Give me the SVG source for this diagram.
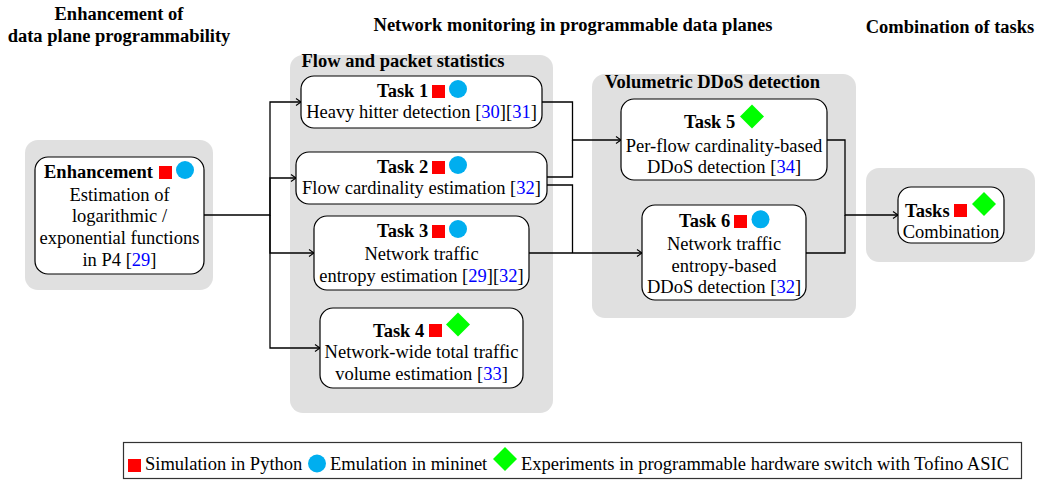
<svg xmlns="http://www.w3.org/2000/svg" width="1038" height="481" viewBox="0 0 1038 481">
<defs>
<style>
text{font-family:"Liberation Serif","Times New Roman",serif;font-size:18.5px;fill:#000}
.b{font-weight:bold}
.m{text-anchor:middle}
.grp{fill:#e0e0e0;stroke:none}
.node{fill:#fff;stroke:#000;stroke-width:1.2}
.c{fill:#0000ff}
.sq{fill:#ff0000}
.ci{fill:#00aeef}
.di{fill:#00ff00}
.conn path{fill:none;stroke:#000;stroke-width:1.3}
</style>
<marker id="arr" markerUnits="userSpaceOnUse" markerWidth="8" markerHeight="8" refX="6" refY="4" orient="auto">
<path d="M1,0.5 L6,4 L1,7.5" fill="none" stroke="#000" stroke-width="1.1"/>
</marker>
</defs>
<rect width="1038" height="481" fill="#fff"/>

<g id="titles">
<text class="b m" x="119" y="20">Enhancement of</text>
<text class="b m" x="119" y="42">data plane programmability</text>
<text class="b m" x="573" y="31">Network monitoring in programmable data planes</text>
<text class="b m" x="950" y="33">Combination of tasks</text>
</g>

<g id="group-enhancement"><rect class="grp" x="25" y="140" width="188" height="150" rx="13"/></g>
<g id="group-flow">
<rect class="grp" x="290" y="55" width="263" height="358" rx="13"/>
<text class="b m" x="403" y="67">Flow and packet statistics</text>
</g>
<g id="group-ddos">
<rect class="grp" x="592" y="74" width="264" height="244" rx="13"/>
<text class="b m" x="712.5" y="88">Volumetric DDoS detection</text>
</g>
<g id="group-combination"><rect class="grp" x="866" y="168" width="169" height="94" rx="13"/></g>

<g class="conn" id="connectors">
<path d="M204,215 H270 V102 H301" marker-end="url(#arr)"/>
<path d="M270,215 V178 H296" marker-end="url(#arr)"/>
<path d="M270,215 V253 H314" marker-end="url(#arr)"/>
<path d="M270,215 V348 H320" marker-end="url(#arr)"/>
<path d="M542,102 H572.5 V140 H621" marker-end="url(#arr)"/>
<path d="M547,177 H572.5 V140"/>
<path d="M547,185 H572.5 V253"/>
<path d="M529,253 H642" marker-end="url(#arr)"/>
<path d="M827,140 H845 V215 H898" marker-end="url(#arr)"/>
<path d="M806,253 H845 V215"/>
</g>

<g id="node-enhancement">
<rect class="node" x="35" y="157" width="169" height="117" rx="13"/>
<text class="b" x="44" y="178">Enhancement</text>
<rect class="sq" x="159" y="166" width="13" height="13"/>
<circle class="ci" cx="185" cy="170" r="9"/>
<text class="m" x="119.5" y="200.5">Estimation of</text>
<text class="m" x="119.5" y="222">logarithmic /</text>
<text class="m" x="119.5" y="243.5">exponential functions</text>
<text class="m" x="119.5" y="265.5">in P4 [<tspan class="c">29</tspan>]</text>
</g>

<g id="node-task1">
<rect class="node" x="301" y="76" width="241" height="52" rx="13"/>
<text class="b" x="377" y="97">Task 1</text>
<rect class="sq" x="432" y="85" width="13" height="13"/>
<circle class="ci" cx="458" cy="89" r="9"/>
<text class="m" x="421.5" y="118">Heavy hitter detection [<tspan class="c">30</tspan>][<tspan class="c">31</tspan>]</text>
</g>

<g id="node-task2">
<rect class="node" x="296" y="152" width="251" height="52" rx="13"/>
<text class="b" x="377" y="173">Task 2</text>
<rect class="sq" x="432" y="161" width="13" height="13"/>
<circle class="ci" cx="458" cy="165" r="9"/>
<text class="m" x="421.5" y="194">Flow cardinality estimation [<tspan class="c">32</tspan>]</text>
</g>

<g id="node-task3">
<rect class="node" x="314" y="216" width="215" height="74" rx="13"/>
<text class="b" x="377" y="237">Task 3</text>
<rect class="sq" x="432" y="225" width="13" height="13"/>
<circle class="ci" cx="458" cy="229" r="9"/>
<text class="m" x="421.5" y="260">Network traffic</text>
<text class="m" x="421.5" y="282">entropy estimation [<tspan class="c">29</tspan>][<tspan class="c">32</tspan>]</text>
</g>

<g id="node-task4">
<rect class="node" x="320" y="308" width="203" height="80" rx="13"/>
<text class="b" x="373" y="337">Task 4</text>
<rect class="sq" x="429" y="324" width="13" height="13"/>
<path class="di" d="M458,312.5 L470,324.5 L458,336.5 L446,324.5 Z"/>
<text class="m" x="421.5" y="358">Network-wide total traffic</text>
<text class="m" x="421.5" y="380">volume estimation [<tspan class="c">33</tspan>]</text>
</g>

<g id="node-task5">
<rect class="node" x="621" y="99" width="206" height="81" rx="13"/>
<text class="b" x="684" y="128">Task 5</text>
<path class="di" d="M752,104.5 L764,116.5 L752,128.5 L740,116.5 Z"/>
<text class="m" x="724" y="151.5">Per-flow cardinality-based</text>
<text class="m" x="724" y="173">DDoS detection [<tspan class="c">34</tspan>]</text>
</g>

<g id="node-task6">
<rect class="node" x="642" y="205" width="164" height="95" rx="13"/>
<text class="b" x="679" y="227">Task 6</text>
<rect class="sq" x="734" y="215" width="13" height="13"/>
<circle class="ci" cx="760.5" cy="219.3" r="9"/>
<text class="m" x="724" y="250">Network traffic</text>
<text class="m" x="724" y="271.5">entropy-based</text>
<text class="m" x="724" y="293">DDoS detection [<tspan class="c">32</tspan>]</text>
</g>

<g id="node-combination">
<rect class="node" x="898" y="187" width="106" height="56" rx="13"/>
<text class="b" x="905" y="217">Tasks</text>
<rect class="sq" x="954" y="204" width="13" height="13"/>
<path class="di" d="M984,192 L996,204 L984,216 L972,204 Z"/>
<text class="m" x="951" y="238">Combination</text>
</g>

<g id="legend">
<rect x="123.5" y="442.5" width="898" height="36" fill="#fff" stroke="#333" stroke-width="1.2"/>
<rect class="sq" x="128" y="459" width="13" height="13"/>
<text x="145" y="470">Simulation in Python</text>
<circle class="ci" cx="317" cy="463.5" r="9"/>
<text x="330" y="470">Emulation in mininet</text>
<path class="di" d="M505,447 L517,459 L505,471 L493,459 Z"/>
<text x="521" y="470">Experiments in programmable hardware switch with Tofino ASIC</text>
</g>
</svg>
